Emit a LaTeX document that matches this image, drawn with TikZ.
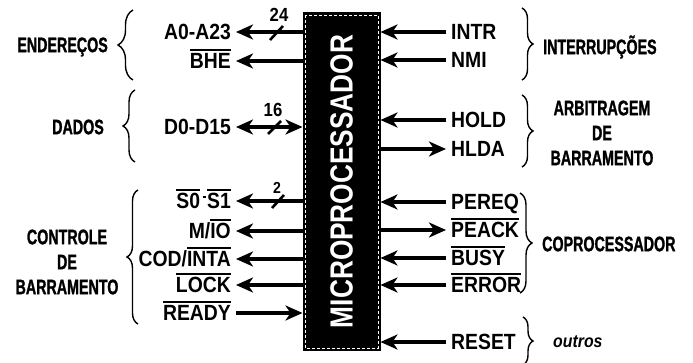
\documentclass[tikz,border=0pt]{standalone}
\usepackage{fontspec}
\setmainfont{Liberation Sans}
\newfontfamily\pinfont{Liberation Sans}[FakeStretch=0.88]
\newfontfamily\grpfont{Liberation Sans}[FakeStretch=0.68, FakeBold=1.2]
\newfontfamily\cpufont{Liberation Sans}[FakeStretch=0.82]
\usepackage{tikz}
\usetikzlibrary{arrows.meta,calc,decorations.pathreplacing,positioning}

% overlined (active low) signal name
\newcommand{\ovl}[1]{\vbox{\hrule height 1.8pt\kern 2.5pt\hbox{#1}}}

\begin{document}
\begin{tikzpicture}[
    x=1pt, y=-1pt,
    >={Stealth[length=17pt,width=15pt,inset=5pt]},
    cpu/.style={draw, fill=black, line width=1pt, minimum width=77pt, minimum height=337pt, inner sep=0pt},
    sig/.style={font=\pinfont\bfseries\fontsize{22}{24}\selectfont, text height=15.8pt, text depth=0pt, inner ysep=0pt, inner xsep=5pt},
    sigl/.style={sig, anchor=east},
    sigr/.style={sig, anchor=west},
    grp/.style={font=\grpfont\bfseries\fontsize{21}{25}\selectfont, align=center, inner sep=0pt},
    num/.style={font=\pinfont\bfseries\fontsize{19}{19}\selectfont, inner sep=0pt},
    arr/.style={->, line width=4pt},
    tick/.style={line width=2.6pt},
    brc/.style={decorate, decoration={brace, amplitude=#1}, line width=1.4pt},
    brc/.default=12pt
]
\useasboundingbox (0,0) rectangle (693,363);

% Microprocessor
\node[cpu] (cpu) at (341.5,181.5) {};
\draw[white, densely dashed, line width=0.6pt] ([shift={(2.5pt,-2.5pt)}]cpu.north west) rectangle ([shift={(-2.5pt,2.5pt)}]cpu.south east);
\node[rotate=90, text=white, font=\cpufont\bfseries\fontsize{32}{32}\selectfont] (name) at (cpu.center) {MICROPROCESSADOR};

% Left signals
\node[sigl] (addr) at (236,32) {A0-A23};
\node[sigl] (bhe) at (236,61) {\ovl{BHE}};
\node[sigl] (dbus) at (236,127) {D0-D15};
\node[sigl] (stat) at (236,201) {\ovl{S0}\hspace{3pt}\raisebox{11pt}{\rule{3pt}{1.8pt}}\hspace{1pt}\ovl{S1}};
\node[sigl] (mio) at (236,231) {M/\ovl{IO}};
\node[sigl] (cod) at (236,259) {COD/\ovl{INTA}};
\node[sigl] (lock) at (236,285) {\ovl{LOCK}};
\node[sigl] (ready) at (236,313) {\ovl{READY}};

\draw[arr] (cpu.west |- addr.east) -- (addr.east);
\draw[arr] (cpu.west |- bhe.east) -- (bhe.east);
\coordinate (dmid) at ($(dbus.east)!0.5!(cpu.west |- dbus.east)$);
\draw[arr] (dmid) -- (dbus.east);
\draw[arr] (dmid) -- (cpu.west |- dbus.east);
\draw[arr] (cpu.west |- stat.east) -- (stat.east);
\draw[arr] (cpu.west |- mio.east) -- (mio.east);
\draw[arr] (cpu.west |- cod.east) -- (cod.east);
\draw[arr] (cpu.west |- lock.east) -- (lock.east);
\draw[arr] (ready.east) -- (cpu.west |- ready.east);

% Bus widths
\draw[tick] (270,40) -- (283,26);
\node[num] (w24) at (279,15) {24};
\draw[tick] (268,134) -- (281,121);
\node[num] (w16) at (273,110) {16};
\draw[tick] (272,208) -- (284,195);
\node[num, font=\pinfont\bfseries\fontsize{16}{16}\selectfont] (w2) at (277,188) {2};

% Right signals
\node[sigr] (intr) at (446,32) {INTR};
\node[sigr] (nmi) at (446,60) {NMI};
\node[sigr] (hold) at (446,120) {HOLD};
\node[sigr] (hlda) at (446,149) {HLDA};
\node[sigr] (pereq) at (446,202) {PEREQ};
\node[sigr] (peack) at (446,230) {\ovl{PEACK}};
\node[sigr] (busy) at (446,258) {\ovl{BUSY}};
\node[sigr] (error) at (446,285) {\ovl{ERROR}};
\node[sigr] (reset) at (446,342) {RESET};

\draw[arr] (intr.west) -- (cpu.east |- intr.west);
\draw[arr] (nmi.west) -- (cpu.east |- nmi.west);
\draw[arr] (hold.west) -- (cpu.east |- hold.west);
\draw[arr] (cpu.east |- hlda.west) -- (hlda.west);
\draw[arr] (pereq.west) -- (cpu.east |- pereq.west);
\draw[arr] (cpu.east |- peack.west) -- (peack.west);
\draw[arr] (busy.west) -- (cpu.east |- busy.west);
\draw[arr] (error.west) -- (cpu.east |- error.west);
\draw[arr] (reset.west) -- (cpu.east |- reset.west);

% Groups
\draw[brc=15pt] (133,80) -- (133,10);
\node[grp, anchor=east] (enderecos) at (108,47) {ENDEREÇOS};
\draw[brc] (135,162) -- (135,90);
\node[grp, anchor=east] (dados) at (104,127) {DADOS};
\draw[brc=11pt] (138,324) -- (138,190);
\node[grp] (controle) at (67,262) {CONTROLE\\DE\\BARRAMENTO};

\draw[brc=11pt] (522,8) -- (522,80);
\node[grp, anchor=west] (interrup) at (543,47) {INTERRUPÇÕES};
\draw[brc=11pt] (522,95) -- (522,167);
\node[grp] (arbit) at (602,133) {ARBITRAGEM\\DE\\BARRAMENTO};
\draw[brc=12pt] (520,193) -- (520,293);
\node[grp, anchor=west] (coproc) at (542,244) {COPROCESSADOR};
\draw[brc=10pt] (523,317) -- (523,365);
\node[anchor=west, inner sep=0pt, font=\pinfont\bfseries\itshape\fontsize{18}{18}\selectfont] (outros) at (553,342) {outros};

\end{tikzpicture}
\end{document}
